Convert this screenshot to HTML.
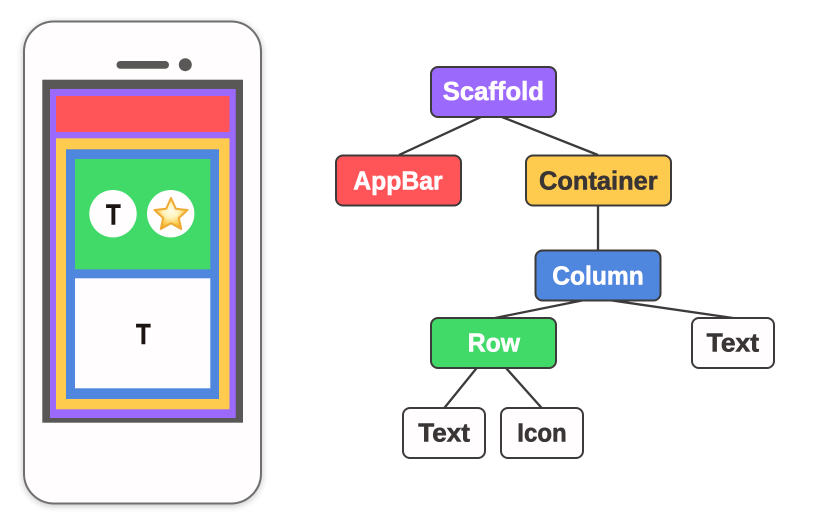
<!DOCTYPE html>
<html>
<head>
<meta charset="utf-8">
<style>
html,body{margin:0;padding:0;background:#fff;width:813px;height:526px;overflow:hidden}
svg{display:block}
text{font-family:"Liberation Sans",sans-serif;font-weight:700}
</style>
</head>
<body>
<svg width="813" height="526" viewBox="0 0 813 526" xmlns="http://www.w3.org/2000/svg">
<defs>
<filter id="sh" x="-15%" y="-10%" width="130%" height="120%"><feGaussianBlur stdDeviation="4"/></filter>
<radialGradient id="st" cx=".5" cy=".42" r=".62">
<stop offset="0" stop-color="#fffbe8"/><stop offset=".35" stop-color="#fff3bd"/><stop offset=".72" stop-color="#fbc748"/><stop offset="1" stop-color="#eb9d1c"/>
</radialGradient>
</defs>
<rect x="24" y="23" width="237" height="482" rx="30" fill="#000" opacity=".3" filter="url(#sh)"/>
<rect x="24" y="21.500" width="237" height="482" rx="30" fill="#fffdfe" stroke="#6f6f6f" stroke-width="2"/>
<rect x="116.500" y="61" width="52.500" height="7.700" rx="3.850" fill="#5a5757"/>
<circle cx="185.300" cy="64.700" r="6.500" fill="#5a5757"/>
<rect x="42.300" y="79.700" width="200.700" height="343" fill="#5a5757"/>
<rect x="50" y="89" width="185.700" height="329" fill="#9b69fb"/>
<rect x="56" y="96" width="173.500" height="36" fill="#ff5558"/>
<rect x="56" y="138.300" width="173.500" height="271" fill="#ffcb4f"/>
<rect x="66" y="149.300" width="153" height="249.700" fill="#4f86de"/>
<rect x="75" y="159" width="135.300" height="110.300" fill="#41da69"/>
<rect x="75" y="278.300" width="135.300" height="110" fill="#fffdfe"/>
<circle cx="113" cy="213.700" r="23.700" fill="#fffdfe"/>
<circle cx="170.700" cy="213.700" r="23.700" fill="#fffdfe"/>
<polygon points="171,198 175.800,208.800 187.500,210 178.800,218 181.200,229 171,223.200 160.800,229 163.200,218 154.500,210 166.200,208.800" fill="url(#st)" stroke="#eeaa35" stroke-width="2" stroke-linejoin="round"/>
<g stroke="#1c1412" stroke-width=".5" fill="#1c1412">
<text x="106" y="224.300" font-size="29" textLength="14.700" lengthAdjust="spacingAndGlyphs">T</text>
<text x="136" y="344" font-size="29" textLength="14.700" lengthAdjust="spacingAndGlyphs">T</text>
</g>

<g stroke="#3d3a3a" stroke-width="2.300" fill="none">
<line x1="481" y1="117" x2="399" y2="155"/>
<line x1="502" y1="117" x2="598" y2="155"/>
<line x1="598" y1="205" x2="598" y2="250"/>
<line x1="582" y1="300.500" x2="495" y2="318"/>
<line x1="612" y1="300.500" x2="733" y2="318"/>
<line x1="476.700" y1="368" x2="444.300" y2="408"/>
<line x1="506" y1="368" x2="541.700" y2="408"/>
</g>
<g stroke="#3d3a3a" stroke-width="2">
<rect x="431" y="67" width="125" height="50" rx="7" fill="#9b69fb"/>
<rect x="336" y="155.500" width="125" height="50" rx="7" fill="#ff5558"/>
<rect x="526" y="155.500" width="145" height="50" rx="7" fill="#ffcb4f"/>
<rect x="535.500" y="250.500" width="125" height="50" rx="7" fill="#4f86de"/>
<rect x="431" y="318" width="125" height="50" rx="7" fill="#41da69"/>
<rect x="692" y="318" width="82" height="50" rx="7" fill="#fffdfe"/>
<rect x="403" y="408" width="82" height="50" rx="7" fill="#fffdfe"/>
<rect x="501" y="408" width="82" height="50" rx="7" fill="#fffdfe"/>
</g>
<g font-size="26" stroke-width=".6">
<text x="442.700" y="100" fill="#fffdfe" stroke="#fffdfe" textLength="101.300" lengthAdjust="spacingAndGlyphs">Scaffold</text>
<text x="353.300" y="189.300" fill="#fffdfe" stroke="#fffdfe" textLength="89.400" lengthAdjust="spacingAndGlyphs">AppBar</text>
<text x="539" y="189.300" fill="#3a3535" stroke="#3a3535" textLength="118.700" lengthAdjust="spacingAndGlyphs">Container</text>
<text x="552.300" y="284.300" fill="#fffdfe" stroke="#fffdfe" textLength="91.400" lengthAdjust="spacingAndGlyphs">Column</text>
<text x="467.700" y="351.700" fill="#fffdfe" stroke="#fffdfe" textLength="52.300" lengthAdjust="spacingAndGlyphs">Row</text>
<text x="706.700" y="351.700" fill="#3a3535" stroke="#3a3535" textLength="52.300" lengthAdjust="spacingAndGlyphs">Text</text>
<text x="418.300" y="441.700" fill="#3a3535" stroke="#3a3535" textLength="51.700" lengthAdjust="spacingAndGlyphs">Text</text>
<text x="517.300" y="441.700" fill="#3a3535" stroke="#3a3535" textLength="49.400" lengthAdjust="spacingAndGlyphs">Icon</text>
</g>
</svg>
</body>
</html>
